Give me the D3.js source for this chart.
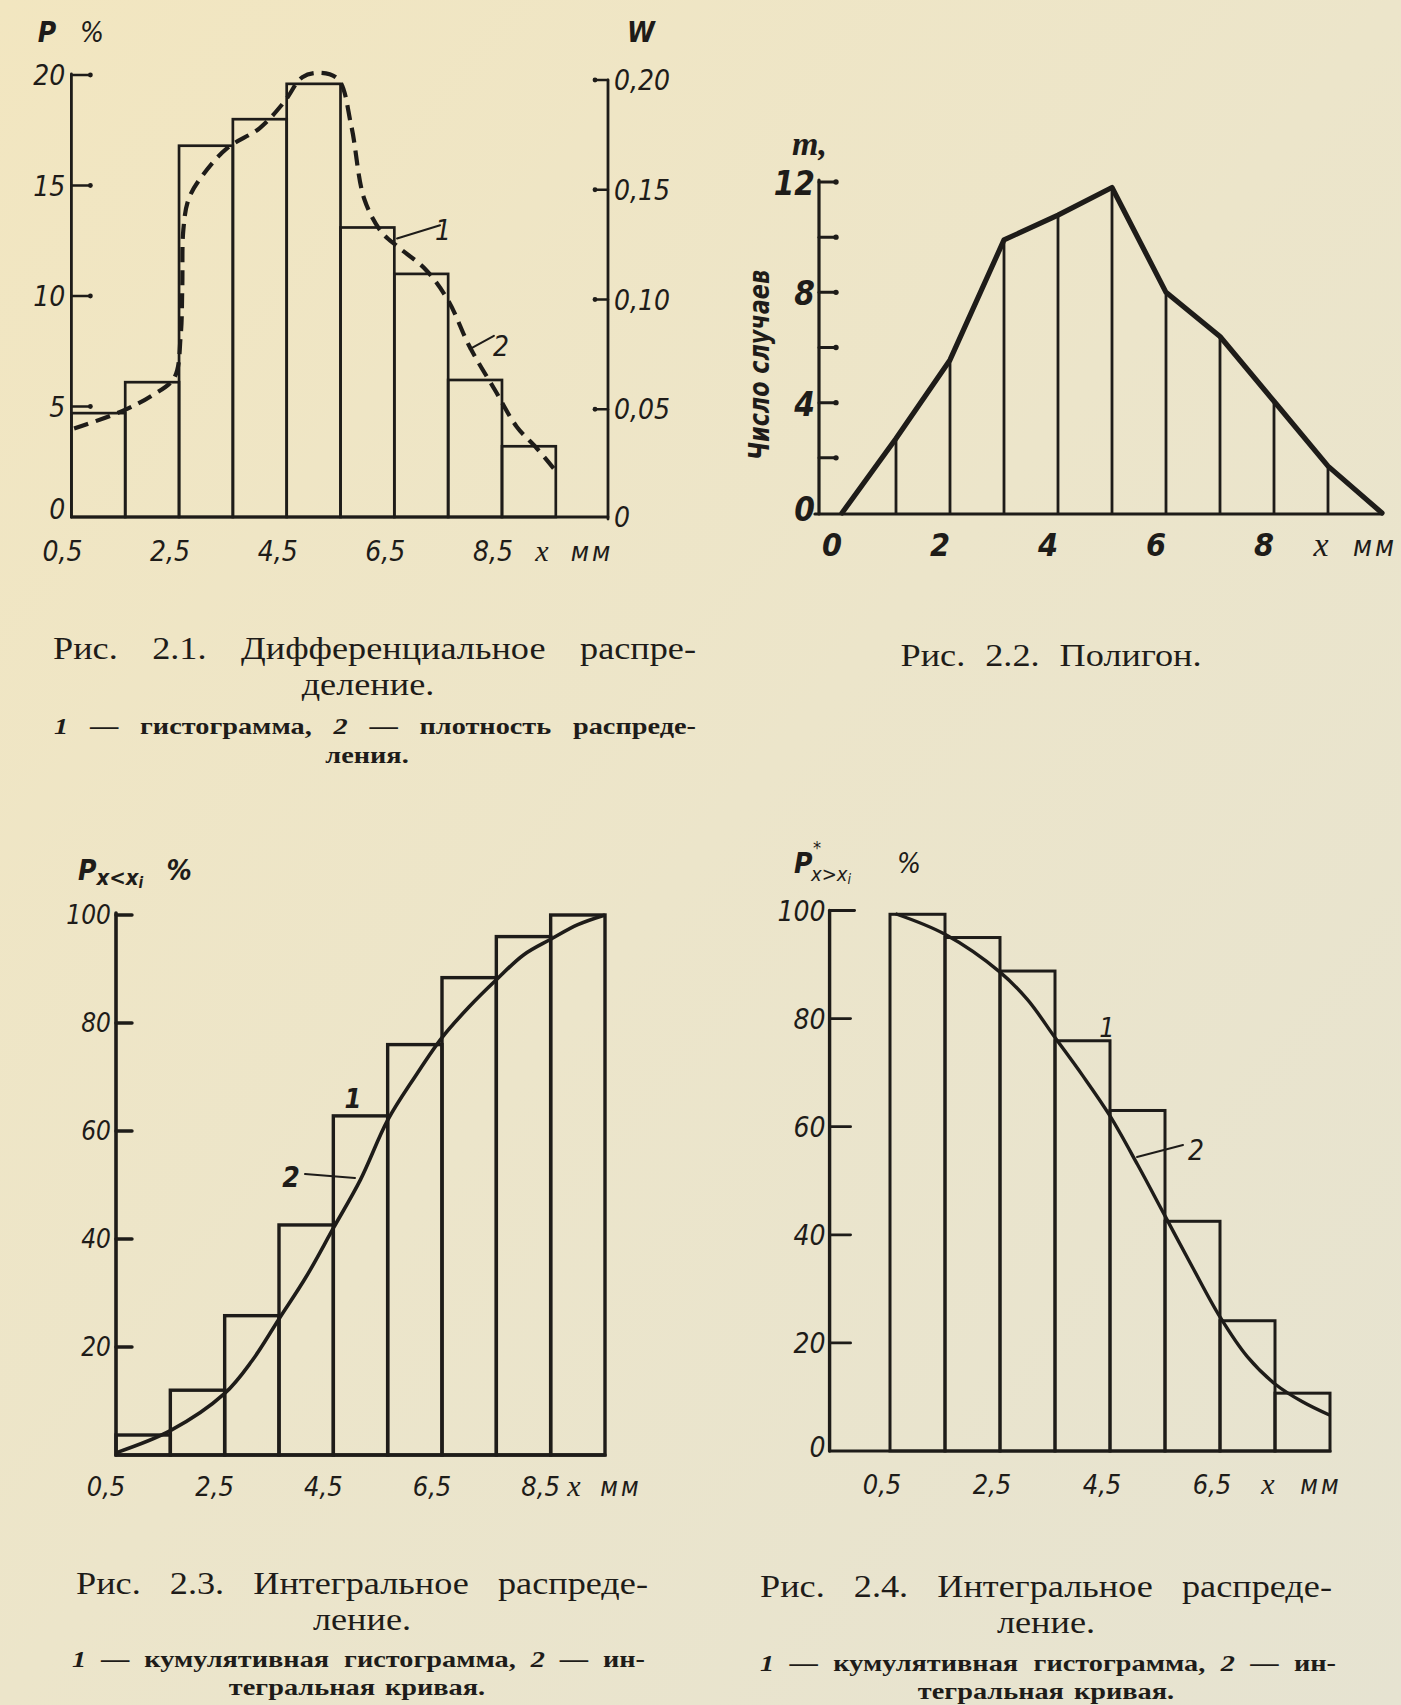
<!DOCTYPE html>
<html><head><meta charset="utf-8">
<script src="https://cdn.jsdelivr.net/npm/d3@7/dist/d3.min.js"></script>
<style>
html,body{margin:0;padding:0;background:#ece6c9;}
svg{display:block;}
.num{font-family:"Liberation Sans Narrow","DejaVu Sans Condensed","Arial Narrow",sans-serif;font-style:italic;fill:#1e1c19;}
.ser{font-family:"Liberation Serif","DejaVu Serif",serif;fill:#1e1c19;}
</style></head><body>
<svg id="page" width="1401" height="1705"></svg>
<script>
// ---------------- DATA ----------------
// Fig 2.1 – histogram (P %) over 1-mm bins and density curve
const fig1Bins = [0.5, 1.5, 2.5, 3.5, 4.5, 5.5, 6.5, 7.5, 8.5];
const fig1P = [4.7, 6.1, 16.8, 18.0, 19.6, 13.1, 11.0, 6.2, 3.2];
const fig1DensX = [0.55, 1.45, 2.0, 2.41, 2.53, 2.56, 2.58, 2.68, 2.95, 3.4, 4.0, 4.46, 4.79, 5.12, 5.46, 5.7, 5.94, 6.26, 6.58, 7.08, 7.5, 7.9, 8.38, 8.77, 9.15, 9.46];
const fig1DensY = [4.0, 4.8, 5.5, 6.3, 8.2, 10.4, 13.0, 14.4, 15.5, 16.7, 17.6, 18.8, 19.9, 20.1, 19.8, 17.7, 14.4, 12.9, 12.2, 11.2, 9.8, 7.7, 5.7, 4.1, 3.1, 2.2];
const fig1YTicks = [0, 5, 10, 15, 20];
const fig1WTicks = [0, 0.05, 0.10, 0.15, 0.20];
const fig1WLabels = ["0", "0,05", "0,10", "0,15", "0,20"];
const fig1XTicks = [0.5, 2.5, 4.5, 6.5, 8.5];

// Fig 2.2 – polygon
const fig2X = [0, 1, 2, 3, 4, 5, 6, 7, 8, 9, 10];
const fig2M = [0, 2.7, 5.55, 9.9, 10.8, 11.8, 8.0, 6.4, 4.05, 1.7, 0];
const fig2YTicks = [2, 4, 6, 8, 10, 12];
const fig2YLabels = [0, 4, 8, 12];
const fig2XTicks = [0, 2, 4, 6, 8];

// Fig 2.3 – cumulative histogram and integral curve
const fig3Bins = [0.5, 1.5, 2.5, 3.5, 4.5, 5.5, 6.5, 7.5, 8.5];
const fig3F = [3.7, 12.0, 25.8, 42.6, 62.8, 76.0, 88.4, 96.0, 100];
const fig3CurveX = [0.5, 1.5, 2.5, 3.0, 3.5, 4.0, 4.5, 5.0, 5.5, 6.0, 6.5, 7.0, 7.5, 8.0, 8.5, 9.0, 9.5];
const fig3CurveY = [0.4, 4.5, 11.4, 17.4, 25.2, 33, 42, 51, 62, 70, 77.3, 83, 88, 92.6, 95.5, 98.2, 100];
const fig3YTicks = [20, 40, 60, 80, 100];
const fig3XTicks = [0.5, 2.5, 4.5, 6.5, 8.5];

// Fig 2.4 – complementary cumulative histogram and curve
const fig4Bins = [0.5, 1.5, 2.5, 3.5, 4.5, 5.5, 6.5, 7.5];
const fig4F = [99.3, 95.0, 88.8, 75.9, 63.0, 42.5, 24.1, 10.7];
const fig4CurveX = [0.6, 1.5, 2.5, 3.0, 3.5, 4.0, 4.5, 5.0, 5.5, 6.0, 6.5, 7.0, 7.5, 8.0, 8.5];
const fig4CurveY = [99.4, 95.6, 88.6, 83.5, 76.5, 69.5, 62, 53, 43.5, 34, 24.8, 17.4, 12.4, 9.1, 6.6];
const fig4YTicks = [0, 20, 40, 60, 80, 100];
const fig4XTicks = [0.5, 2.5, 4.5, 6.5];

const INK = "#1e1c19";
const fmt1 = v => v.toFixed(1).replace(".", ",");

const svg = d3.select("#page");
const defs = svg.append("defs");
const grad = defs.append("linearGradient").attr("id", "bg").attr("x1", 0).attr("y1", 0).attr("x2", 1).attr("y2", 1);
grad.append("stop").attr("offset", "0%").attr("stop-color", "#f2e6c0");
grad.append("stop").attr("offset", "50%").attr("stop-color", "#ece5ca");
grad.append("stop").attr("offset", "100%").attr("stop-color", "#e6e3d1");
svg.append("rect").attr("width", 1401).attr("height", 1705).attr("fill", "url(#bg)");

function line(g, x1, y1, x2, y2, w) {
  return g.append("line").attr("x1", x1).attr("y1", y1).attr("x2", x2).attr("y2", y2)
    .attr("stroke", INK).attr("stroke-width", w).attr("stroke-linecap", "round");
}
function txt(g, x, y, s, size, anchor, cls) {
  return g.append("text").attr("class", cls || "num").attr("x", x).attr("y", y)
    .attr("text-anchor", anchor || "middle").style("font-size", size + "px").text(s);
}

// ---------------- FIG 2.1 ----------------
{
  const g = svg.append("g");
  const x = d3.scaleLinear().domain([0.5, 9.5]).range([71.4, 555.8]);
  const y = d3.scaleLinear().domain([0, 20]).range([517, 75]);
  const yW = d3.scaleLinear().domain([0, 0.2]).range([519, 80]);
  const ax = x(0.5), axR = 608;
  g.selectAll("rect.b").data(fig1Bins).join("rect").attr("class", "b")
    .attr("x", d => x(d)).attr("width", d => x(d + 1) - x(d))
    .attr("y", (d, i) => y(fig1P[i])).attr("height", (d, i) => y(0) - y(fig1P[i]))
    .attr("fill", "none").attr("stroke", INK).attr("stroke-width", 2.7);
  line(g, ax, y(0), ax, y(20) - 1, 2.8);
  line(g, ax, y(0), axR, y(0), 2.8);
  line(g, axR, yW(0), axR, yW(0.2), 2.8);
  fig1YTicks.filter(v => v > 0).forEach(v => {
    line(g, ax, y(v), ax + 18, y(v), 2.4);
    g.append("circle").attr("cx", ax + 19).attr("cy", y(v)).attr("r", 2.4).attr("fill", INK);
  });
  fig1YTicks.forEach(v => txt(g, ax - 6, y(v) + (v === 0 ? 2 : 10), v, 28, "end"));
  fig1WTicks.filter(v => v > 0).forEach(v => {
    line(g, axR, yW(v), axR - 12, yW(v), 2.4);
    g.append("circle").attr("cx", axR - 13).attr("cy", yW(v)).attr("r", 2.4).attr("fill", INK);
  });
  fig1WTicks.forEach((v, i) => txt(g, axR + 6, yW(v) + (v === 0 ? 8 : 10), fig1WLabels[i], 28, "start"));
  fig1XTicks.forEach(v => txt(g, x(v) - 9, 561, fmt1(v), 28));
  txt(g, 542, 561, "x", 30, "middle", "ser").style("font-style", "italic");
  txt(g, 592, 561, "мм", 27).style("letter-spacing", "3px");
  txt(g, 47, 42, "P", 28).style("font-weight", "bold");
  txt(g, 92, 42, "%", 28);
  txt(g, 641, 42, "W", 28).style("font-weight", "bold");
  const pts = fig1DensX.map((d, i) => [x(d), y(fig1DensY[i])]);
  g.append("path").attr("d", d3.line().curve(d3.curveCatmullRom.alpha(0.5))(pts))
    .attr("fill", "none").attr("stroke", INK).attr("stroke-width", 4.2)
    .attr("stroke-dasharray", "15,8");
  line(g, x(6.55), y(12.6), x(7.35), y(13.2), 2);
  txt(g, 443, 240, "1", 28);
  line(g, x(7.9), y(7.6), x(8.35), y(8.2), 2);
  txt(g, 501, 356, "2", 28);
}

// ---------------- FIG 2.2 ----------------
{
  const g = svg.append("g");
  const x = d3.scaleLinear().domain([0, 10]).range([842, 1382]);
  const y = d3.scaleLinear().domain([0, 12]).range([513, 182]);
  const ax = 819;
  line(g, ax, y(0) + 1, ax, y(12) - 2, 3.2);
  line(g, ax - 4, y(0) + 1, x(10), y(0) + 1, 3.2);
  fig2YTicks.forEach(v => {
    line(g, ax, y(v), ax + 16, y(v), 3);
    g.append("circle").attr("cx", ax + 17).attr("cy", y(v)).attr("r", 2.7).attr("fill", INK);
  });
  fig2YLabels.forEach(v => txt(g, ax - 4, y(v) + (v === 0 ? 8 : 13), v, 33, "end").style("font-weight", "bold"));
  fig2XTicks.forEach(v => txt(g, x(v) - 10, 556, v, 32).style("font-weight", "bold"));
  txt(g, 1321, 556, "x", 34, "middle", "ser").style("font-style", "italic");
  txt(g, 1375, 556, "мм", 28).style("letter-spacing", "3px");
  fig2X.forEach((d, i) => {
    if (i > 0 && i < fig2X.length - 1) line(g, x(d), y(0), x(d), y(fig2M[i]), 2.8);
  });
  g.append("path").attr("d", d3.line().x(d => x(d)).y((d, i) => y(fig2M[i]))(fig2X))
    .attr("fill", "none").attr("stroke", INK).attr("stroke-width", 5.2)
    .attr("stroke-linejoin", "round").attr("stroke-linecap", "round");
  txt(g, 792, 155, "m,", 34, "start", "ser").style("font-style", "italic").style("font-weight", "bold");
  g.append("text").attr("class", "num").attr("transform", "translate(769,365) rotate(-90)")
    .attr("text-anchor", "middle").style("font-size", "29px").style("font-weight", "bold")
    .attr("textLength", 190).attr("lengthAdjust", "spacingAndGlyphs").text("Число случаев");
}

// ---------------- FIG 2.3 ----------------
{
  const g = svg.append("g");
  const x = d3.scaleLinear().domain([0.5, 9.5]).range([116, 605]);
  const y = d3.scaleLinear().domain([0, 100]).range([1455, 915]);
  const ax = x(0.5);
  g.selectAll("rect.b").data(fig3Bins).join("rect").attr("class", "b")
    .attr("x", d => x(d)).attr("width", d => x(d + 1) - x(d))
    .attr("y", (d, i) => y(fig3F[i])).attr("height", (d, i) => y(0) - y(fig3F[i]))
    .attr("fill", "none").attr("stroke", INK).attr("stroke-width", 3.4);
  line(g, ax, y(0), ax, y(100) - 2, 3.6);
  line(g, ax, y(0), x(9.5), y(0), 3.4);
  fig3YTicks.forEach(v => line(g, ax, y(v), ax + 16, y(v), 3.4));
  fig3YTicks.forEach(v => txt(g, ax - 5, y(v) + 9, v, 26, "end"));
  fig3XTicks.forEach(v => txt(g, x(v) - 10, 1496, fmt1(v), 27));
  txt(g, 574, 1496, "x", 30, "middle", "ser").style("font-style", "italic");
  txt(g, 621, 1496, "мм", 26).style("letter-spacing", "3px");
  const pts = fig3CurveX.map((d, i) => [x(d), y(fig3CurveY[i])]);
  g.append("path").attr("d", d3.line().curve(d3.curveCatmullRom.alpha(0.5))(pts))
    .attr("fill", "none").attr("stroke", INK).attr("stroke-width", 3.6);
  txt(g, 353, 1108, "1", 27).style("font-weight", "bold");
  line(g, 305, 1174, 355, 1178, 2);
  txt(g, 291, 1187, "2", 28).style("font-weight", "bold");
  const t = g.append("text").attr("class", "num").attr("x", 78).attr("y", 880).style("font-size", "28px").style("font-weight", "bold");
  t.append("tspan").text("P");
  t.append("tspan").attr("dy", 5).style("font-size", "22px").text("x<x");
  t.append("tspan").attr("dy", 3).style("font-size", "15px").text("i");
  txt(g, 179, 880, "%", 28).style("font-weight", "bold");
}

// ---------------- FIG 2.4 ----------------
{
  const g = svg.append("g");
  const x = d3.scaleLinear().domain([0.5, 8.5]).range([890, 1330]);
  const y = d3.scaleLinear().domain([0, 100]).range([1451, 910.5]);
  const ax = 829.6;
  g.selectAll("rect.b").data(fig4Bins).join("rect").attr("class", "b")
    .attr("x", d => x(d)).attr("width", d => x(d + 1) - x(d))
    .attr("y", (d, i) => y(fig4F[i])).attr("height", (d, i) => y(0) - y(fig4F[i]))
    .attr("fill", "none").attr("stroke", INK).attr("stroke-width", 3.0);
  line(g, ax, y(0), ax, y(100), 3.4);
  line(g, ax, y(0), x(8.5), y(0), 3.2);
  fig4YTicks.filter(v => v > 0).forEach(v => line(g, ax, y(v), ax + (v === 100 ? 25 : 21), y(v), 2.8));
  fig4YTicks.forEach(v => txt(g, ax - 4, y(v) + (v === 0 ? 6 : 10), v, 28, "end"));
  fig4XTicks.forEach(v => txt(g, x(v) - 8, 1494, fmt1(v), 27));
  txt(g, 1268, 1494, "x", 30, "middle", "ser").style("font-style", "italic");
  txt(g, 1321, 1494, "мм", 26).style("letter-spacing", "3px");
  const pts = fig4CurveX.map((d, i) => [x(d), y(fig4CurveY[i])]);
  g.append("path").attr("d", d3.line().curve(d3.curveCatmullRom.alpha(0.5))(pts))
    .attr("fill", "none").attr("stroke", INK).attr("stroke-width", 3.4);
  txt(g, 1107, 1037, "1", 27);
  line(g, 1137, 1157, 1183, 1145, 2);
  txt(g, 1196, 1160, "2", 28);
  // title: P with asterisk superscript and x>x_i subscript
  txt(g, 794, 873, "P", 28, "start").style("font-weight", "bold");
  txt(g, 813, 854, "*", 18, "start");
  const t = g.append("text").attr("class", "num").attr("x", 811).attr("y", 881).style("font-size", "20px");
  t.append("tspan").text("x>x");
  t.append("tspan").attr("dy", 3).style("font-size", "14px").text("i");
  txt(g, 909, 873, "%", 28);
}

// ---------------- CAPTIONS ----------------
function capLine(words, opt) {
  const g = svg.append("g").attr("transform", `translate(0,${opt.y})`);
  const inner = g.append("g").attr("transform", `scale(${opt.sx},1)`);
  const nodes = words.map(w => {
    const t = inner.append("text").attr("class", "ser").attr("y", 0)
      .style("font-size", opt.size + "px").style("font-weight", opt.weight || "normal").text(w.replace(/^_/, ""));
    if (w.startsWith("_")) t.style("font-style", "italic");
    return t;
  });
  const widths = nodes.map(n => n.node().getComputedTextLength());
  const total = d3.sum(widths);
  if (opt.align === "justify") {
    const L = opt.x0 / opt.sx, R = opt.x1 / opt.sx;
    const gap = (R - L - total) / (words.length - 1);
    let cx = L;
    nodes.forEach((n, i) => { n.attr("x", cx); cx += widths[i] + gap; });
  } else {
    const gap = opt.gap / opt.sx;
    const full = total + gap * (words.length - 1);
    let cx = opt.cx / opt.sx - full / 2;
    nodes.forEach((n, i) => { n.attr("x", cx); cx += widths[i] + gap; });
  }
}
const main = { size: 31, sx: 1.17 };
const sub = { size: 24, sx: 1.18, weight: "bold" };
capLine(["Рис.", "2.1.", "Дифференциальное", "распре-"], { ...main, align: "justify", x0: 53, x1: 696, y: 659 });
capLine(["деление."], { ...main, align: "center", cx: 368, gap: 10, y: 695 });
capLine(["_1", "—", "гистограмма,", "_2", "—", "плотность", "распреде-"], { ...sub, align: "justify", x0: 54, x1: 696, y: 734 });
capLine(["ления."], { ...sub, align: "center", cx: 367, gap: 8, y: 763 });
capLine(["Рис.", "2.2.", "Полигон."], { ...main, align: "center", cx: 1051, gap: 20, y: 666 });

capLine(["Рис.", "2.3.", "Интегральное", "распреде-"], { ...main, align: "justify", x0: 76, x1: 648, y: 1594 });
capLine(["ление."], { ...main, align: "center", cx: 362, gap: 10, y: 1630 });
capLine(["_1", "—", "кумулятивная", "гистограмма,", "_2", "—", "ин-"], { ...sub, align: "justify", x0: 72, x1: 645, y: 1667 });
capLine(["тегральная", "кривая."], { ...sub, align: "center", cx: 357, gap: 10, y: 1695 });

capLine(["Рис.", "2.4.", "Интегральное", "распреде-"], { ...main, align: "justify", x0: 760, x1: 1332, y: 1597 });
capLine(["ление."], { ...main, align: "center", cx: 1046, gap: 10, y: 1633 });
capLine(["_1", "—", "кумулятивная", "гистограмма,", "_2", "—", "ин-"], { ...sub, align: "justify", x0: 760, x1: 1336, y: 1671 });
capLine(["тегральная", "кривая."], { ...sub, align: "center", cx: 1046, gap: 10, y: 1699 });
</script></body></html>
